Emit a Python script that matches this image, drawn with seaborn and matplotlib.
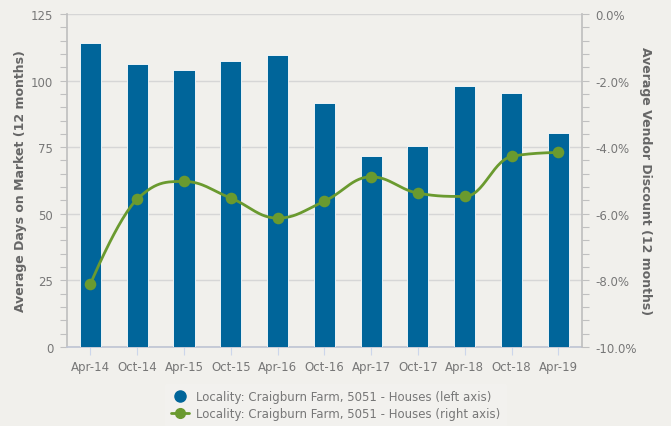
import numpy as np
import pandas as pd
import matplotlib.pyplot as plt
from matplotlib.lines import Line2D
from matplotlib.ticker import MultipleLocator, FuncFormatter
import seaborn as sns

periods = ['Apr-14', 'Oct-14', 'Apr-15', 'Oct-15', 'Apr-16', 'Oct-16',
           'Apr-17', 'Oct-17', 'Apr-18', 'Oct-18', 'Apr-19']
days_on_market = [114.1, 106.2, 104.0, 107.4, 109.6, 91.6, 71.7, 75.6, 97.8, 95.2, 80.3]
vendor_discount = [-8.11, -5.56, -5.03, -5.53, -6.13, -5.62, -4.89, -5.38, -5.48, -4.28, -4.16]

BG = '#f1f0ec'
BLUE = '#00659a'
GREEN = '#6a9a2f'
TXT = '#777777'
TITLE = '#666666'
GRID = '#d6d6d6'


def spline_path(xs, ys, smoothing=1.5, n=30):
    # Highcharts-style spline between the points
    xs = np.asarray(xs, float)
    ys = np.asarray(ys, float)
    m = len(xs)
    lc = [(xs[i], ys[i]) for i in range(m)]
    rc = [(xs[i], ys[i]) for i in range(m)]
    d = smoothing + 1
    for i in range(1, m - 1):
        px, py = xs[i], ys[i]
        lx, ly = xs[i - 1], ys[i - 1]
        nx, ny = xs[i + 1], ys[i + 1]
        lcx = (smoothing * px + lx) / d
        lcy = (smoothing * py + ly) / d
        rcx = (smoothing * px + nx) / d
        rcy = (smoothing * py + ny) / d
        corr = ((rcy - lcy) * (rcx - px)) / (rcx - lcx) + py - rcy
        lcy += corr
        rcy += corr
        if lcy > ly and lcy > py:
            lcy = max(ly, py)
            rcy = 2 * py - lcy
        elif lcy < ly and lcy < py:
            lcy = min(ly, py)
            rcy = 2 * py - lcy
        if rcy > ny and rcy > py:
            rcy = max(ny, py)
            lcy = 2 * py - rcy
        elif rcy < ny and rcy < py:
            rcy = min(ny, py)
            lcy = 2 * py - rcy
        lc[i] = (lcx, lcy)
        rc[i] = (rcx, rcy)
    t = np.linspace(0, 1, n)[:, None]
    pts = []
    for i in range(m - 1):
        p0 = np.array([xs[i], ys[i]])
        p1 = np.array(rc[i])
        p2 = np.array(lc[i + 1])
        p3 = np.array([xs[i + 1], ys[i + 1]])
        seg = ((1 - t) ** 3) * p0 + 3 * ((1 - t) ** 2) * t * p1 + 3 * (1 - t) * t ** 2 * p2 + t ** 3 * p3
        pts.append(seg)
    pts = np.vstack(pts)
    return pts[:, 0], pts[:, 1]


df = pd.DataFrame({'Period': periods, 'Days': days_on_market, 'Discount': vendor_discount})
df['idx'] = np.arange(len(df))

sns.set_theme(style='white')
plt.rcParams['font.family'] = ['DejaVu Sans']

fig = plt.figure(figsize=(6.71, 4.27), dpi=100, facecolor=BG)
ax = fig.add_axes([0.0999, 0.185, 0.767, 0.78])
ax.set_facecolor(BG)

sns.barplot(data=df, x='Period', y='Days', color=BLUE, width=0.45, saturation=1,
            edgecolor='white', linewidth=0.6, ax=ax, zorder=3)
ax.set_ylim(0, 125)
ax.set_xlim(-0.5, len(periods) - 0.5)
ax.yaxis.set_major_locator(MultipleLocator(25))
ax.yaxis.set_minor_locator(MultipleLocator(5))
ax.grid(axis='y', which='major', color=GRID, linewidth=1, zorder=0)
ax.set_axisbelow(True)

ax2 = ax.twinx()
lx, ly = spline_path(df['idx'], df['Discount'])
ax2.plot(lx, ly, color=GREEN, linewidth=2, zorder=4)
sns.scatterplot(data=df, x='idx', y='Discount', color=GREEN, s=70, edgecolor=GREEN,
                linewidth=0, ax=ax2, zorder=5, legend=False)
ax2.set_ylim(-10, 0)
ax2.set_xlim(-0.5, len(periods) - 0.5)
ax2.yaxis.set_major_locator(MultipleLocator(2))
ax2.yaxis.set_minor_locator(MultipleLocator(0.4))
ax2.yaxis.set_major_formatter(FuncFormatter(lambda v, p: f'{v:.1f}%'))

for a in (ax, ax2):
    for s in a.spines.values():
        s.set_visible(False)
    a.set_xlabel('')

ax.spines['left'].set_visible(True)
ax.spines['left'].set_color('#c0c0c0')
ax.spines['bottom'].set_visible(True)
ax.spines['bottom'].set_color('#c0c6d4')
ax2.spines['right'].set_visible(True)
ax2.spines['right'].set_color('#c0c0c0')

ax.tick_params(axis='y', which='both', left=True, colors='#c0c0c0', labelcolor=TXT,
               labelsize=8.5, length=5, width=0.8, pad=5)
ax.tick_params(axis='x', bottom=True, colors='#ccd6eb', labelcolor=TXT, labelsize=8.5,
               length=6, width=0.8, pad=3)
ax2.tick_params(axis='y', which='both', right=True, colors='#c0c0c0', labelcolor=TXT,
                labelsize=8.5, length=5, width=0.8, pad=5)

ax.set_ylabel('Average Days on Market (12 months)', color=TITLE, fontsize=9,
              fontweight='bold', labelpad=3)
ax2.set_ylabel('Average Vendor Discount (12 months)', color=TITLE, fontsize=9,
               fontweight='bold', rotation=270, labelpad=11)

handles = [
    Line2D([], [], marker='o', linestyle='none', color=BLUE, markersize=8),
    Line2D([], [], marker='o', linestyle='-', color=GREEN, markersize=7, linewidth=2),
]
labels = ['Locality: Craigburn Farm, 5051 - Houses (left axis)',
          'Locality: Craigburn Farm, 5051 - Houses (right axis)']
leg = fig.legend(handles, labels, loc='lower center', bbox_to_anchor=(0.5, -0.013),
                 frameon=True, fontsize=8.5, labelspacing=0.3, handlelength=1.5,
                 handletextpad=0.6, borderpad=0.5)
leg.get_frame().set_facecolor('#f3f2ef')
leg.get_frame().set_edgecolor('#f3f2ef')
for t in leg.get_texts():
    t.set_color(TXT)

fig.savefig('out.png', dpi=100, facecolor=BG)
